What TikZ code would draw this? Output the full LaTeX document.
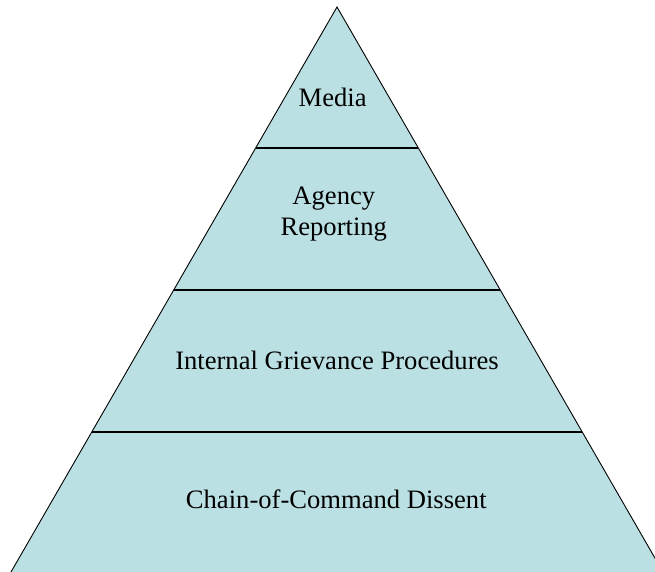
\documentclass[tikz,border=0pt]{standalone}
\usepackage{fontspec}
\setmainfont{Liberation Serif}
\definecolor{tierfill}{HTML}{BBE0E3}
\begin{document}
\begin{tikzpicture}[x=1pt,y=-1pt,
  edge/.style={draw=black,line width=0.9pt},
  divider/.style={draw=black,line width=1.1pt},
  tierlabel/.style={inner sep=0pt,font=\fontsize{26.6}{31}\selectfont,align=center,anchor=base}]
  \useasboundingbox (0,0) rectangle (655,572);
  \clip (0,0) rectangle (655,572);
  % apex and base corners (sides at 30 degrees from vertical)
  \coordinate (apex) at (337,7);
  \coordinate (baseL) at ({337-0.577*(585-7)},585);
  \coordinate (baseR) at ({337+0.577*(585-7)},585);
  % points where the tier borders meet the sides
  \foreach \n/\yy in {a/148,b/290,c/432}{
    \coordinate (\n L) at ({337-0.577*(\yy-7)},\yy);
    \coordinate (\n R) at ({337+0.577*(\yy-7)},\yy);
  }
  \fill[tierfill] (apex) -- (baseR) -- (baseL) -- cycle;
  \draw[divider] (aL) -- (aR);
  \draw[divider] (bL) -- (bR);
  \draw[divider] (cL) -- (cR);
  \draw[edge] (baseL) -- (apex) -- (baseR);
  % tier labels (base anchor sits on the last line)
  \node[tierlabel] (media) at (332.7,107) {Media};
  \node[tierlabel] (agency) at (333.8,235) {Agency\\Reporting};
  \node[tierlabel] (internal) at (337,369.3) {Internal Grievance Procedures};
  \node[tierlabel] (chain) at (336.3,508.3) {Chain-of-Command Dissent};
\end{tikzpicture}
\end{document}
